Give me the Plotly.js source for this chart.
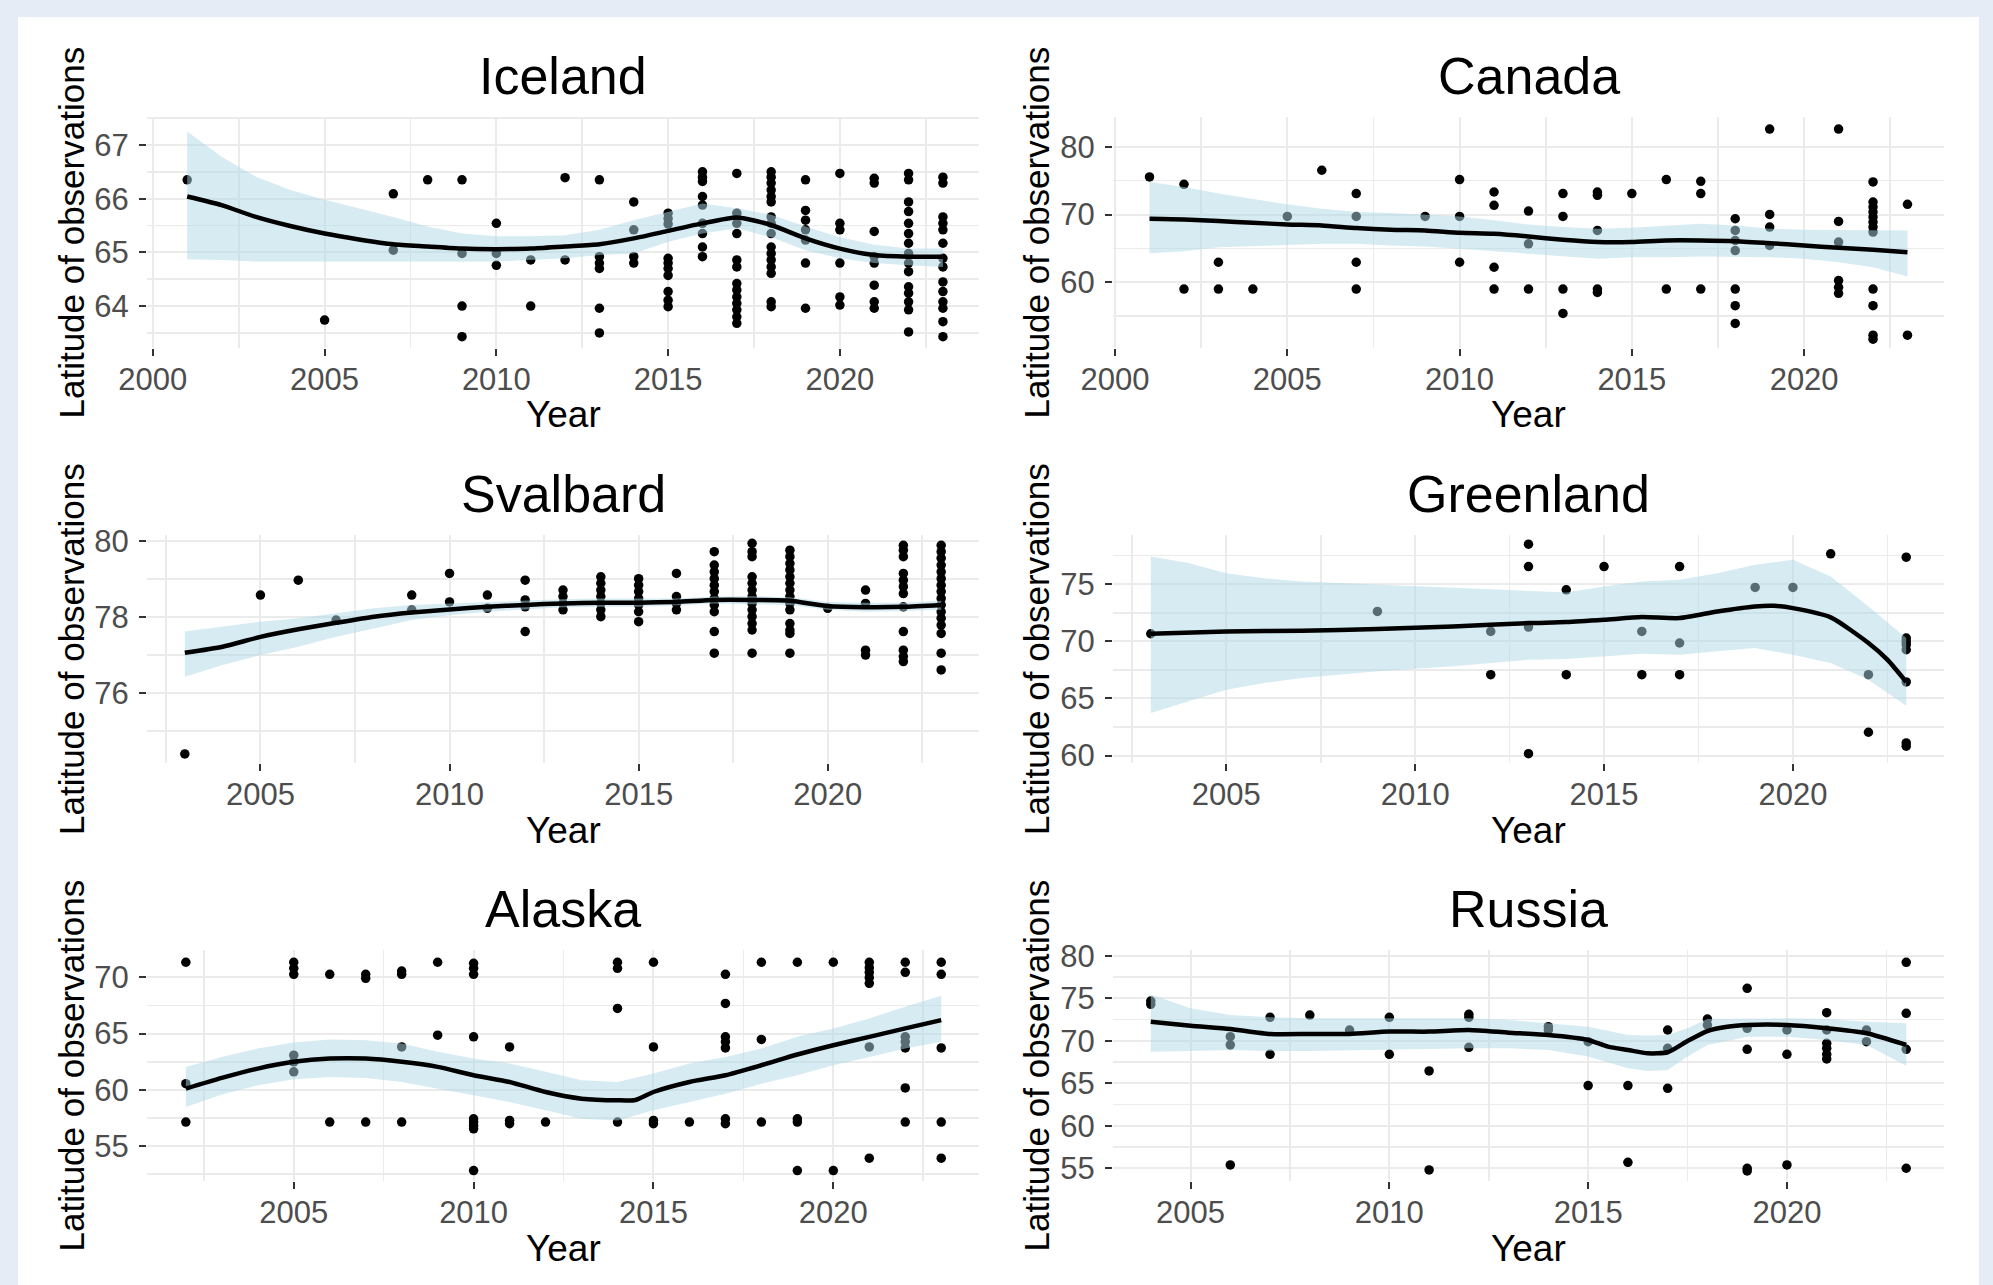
<!DOCTYPE html>
<html><head><meta charset="utf-8">
<script src="https://cdn.plot.ly/plotly-3.0.1.min.js"></script>
<style>html,body{margin:0;padding:0;background:#E5ECF6;} #chart{width:1993px;height:1285px;}</style>
</head><body><div id="chart"></div>
<script>
// ---------- DATA ----------
// Iceland
const icelandPtYears = [2001,2005,2007,2008,2009,2010,2011,2012,2013,2014,2015,2016,2017,2018,2019,2020,2021,2022,2023];
const icelandPtLats = [
 [66.35],[63.74],[66.09,65.04],[66.35],[66.35,64.98,64.0,63.43],[65.54,64.98,64.76],[64.86,64.0],[66.39,64.86],
 [66.35,64.92,64.8,64.7,63.96,63.5],[65.94,65.42,64.92,64.8],
 [65.73,65.63,65.53,64.89,64.8,64.7,64.57,64.27,64.11,63.99],
 [66.5,66.4,66.32,66.04,65.88,65.54,65.35,65.1,64.92],
 [66.47,65.73,65.54,65.35,64.86,64.73,64.42,64.3,64.17,64.05,63.93,63.8,63.68],
 [66.5,66.4,66.29,66.16,66.04,65.94,65.66,65.54,65.35,65.1,64.98,64.86,64.73,64.61,64.08,63.99],
 [66.35,65.78,65.6,65.42,65.23,64.8,63.96],
 [66.47,65.54,65.42,64.8,64.17,64.02],
 [66.38,66.29,65.39,64.92,64.8,64.39,64.08,63.96],
 [66.47,66.35,65.94,65.76,65.54,65.35,65.17,64.98,64.8,64.64,64.36,64.24,64.08,63.93,63.52],
 [66.4,66.29,65.66,65.54,65.42,65.17,64.89,64.73,64.45,64.27,64.08,63.96,63.71,63.43]
];
const icelandFitYears = [2001,2002,2003,2004,2005,2006,2007,2008,2009,2010,2011,2012,2013,2014,2015,2016,2017,2018,2019,2020,2021,2022,2023];
const icelandFit   = [66.04,65.88,65.66,65.49,65.35,65.24,65.15,65.11,65.07,65.06,65.07,65.11,65.15,65.26,65.40,65.54,65.65,65.51,65.26,65.07,64.95,64.92,64.92];
const icelandUpper = [67.25,66.78,66.41,66.16,65.98,65.82,65.66,65.48,65.35,65.30,65.30,65.32,65.42,65.60,65.76,65.91,65.82,65.70,65.48,65.28,65.14,65.07,65.07];
const icelandLower = [64.87,64.86,64.83,64.83,64.83,64.83,64.83,64.83,64.83,64.83,64.86,64.89,64.95,64.98,65.20,65.35,65.45,65.28,65.04,64.89,64.80,64.76,64.73];

// Canada
const canadaPtYears = [2001,2002,2003,2004,2005,2006,2007,2009,2010,2011,2012,2013,2014,2015,2016,2017,2018,2019,2021,2022,2023];
const canadaPtLats = [
 [75.56],[74.47,59.0],[62.96,59.0],[59.0],[69.73],[76.54],[73.09,69.73,62.96,59.0],[69.73],[75.16,69.73,62.96],
 [73.33,71.36,62.22,59.0],[70.52,65.68,59.0],[73.09,69.73,59.0,55.41],[73.33,72.84,67.65,59.0,58.5],[73.09],
 [75.16,59.0],[74.91,73.09,59.0],[69.38,67.65,66.17,64.69,59.0,56.54,53.93],[82.62,70.02,68.15,65.43],
 [82.62,68.99,65.93,60.25,59.26,58.37],
 [74.81,71.85,71.11,70.37,69.63,68.89,68.15,67.41,59.0,56.54,52.2,51.6],[71.51,52.2]
];
const canadaFitYears = [2001,2002,2003,2004,2005,2006,2007,2008,2009,2010,2011,2012,2013,2014,2015,2016,2017,2018,2019,2020,2021,2022,2023];
const canadaFit   = [69.38,69.28,69.04,68.79,68.54,68.40,68.00,67.75,67.65,67.31,67.16,66.77,66.27,65.93,65.93,66.17,66.17,66.07,65.78,65.43,65.09,64.79,64.44];
const canadaUpper = [74.81,74.07,73.09,72.25,71.51,70.86,70.37,70.22,70.02,69.73,69.14,68.54,68.15,67.90,68.05,68.40,68.64,68.40,67.90,67.75,67.75,67.65,67.65];
const canadaLower = [64.30,64.59,65.19,65.43,65.53,65.68,65.68,65.43,65.28,64.94,64.59,64.20,63.80,63.46,63.70,63.70,63.80,63.80,63.70,63.46,62.96,62.22,60.84];

// Svalbard
const svalbardPtYears = [2003,2005,2006,2007,2009,2010,2011,2012,2013,2014,2015,2016,2017,2018,2019,2020,2021,2022,2023];
const svalbardPtLats = [
 [74.39],[78.57],[78.96],[77.91],[78.57,78.18],[79.14,78.39],[78.57,78.22],[78.96,78.44,78.26,77.61],
 [78.7,78.53,78.35,78.18],[79.05,78.88,78.7,78.53,78.35,78.18,78.0],[79.0,78.83,78.66,78.48,78.31,78.13,77.87],
 [79.14,78.53,78.35,78.18],
 [79.71,79.36,79.18,79.0,78.83,78.66,78.48,78.31,78.13,77.61,77.04],
 [79.93,79.71,79.58,79.05,78.88,78.7,78.53,78.35,78.18,78.0,77.82,77.65,77.04],
 [79.75,79.58,79.4,79.23,79.05,78.88,78.7,78.53,78.35,78.18,77.82,77.65,77.56,77.04],
 [78.22],[78.7,78.35,77.12,76.99],
 [79.88,79.75,79.58,79.14,78.96,78.79,78.61,78.26,77.61,77.12,76.95,76.82],
 [79.88,79.71,79.54,79.36,79.18,79.0,78.83,78.66,78.48,78.31,78.13,77.96,77.78,77.56,77.04,76.6]
];
const svalbardFitYears = [2003,2004,2005,2006,2007,2008,2009,2010,2011,2012,2013,2014,2015,2016,2017,2018,2019,2020,2021,2022,2023];
const svalbardFit   = [77.05,77.21,77.47,77.67,77.84,78.00,78.11,78.19,78.26,78.31,78.35,78.37,78.37,78.39,78.44,78.44,78.42,78.28,78.25,78.26,78.31];
const svalbardUpper = [77.61,77.74,77.87,77.96,78.09,78.22,78.31,78.35,78.39,78.42,78.46,78.48,78.48,78.48,78.53,78.54,78.51,78.39,78.37,78.37,78.42];
const svalbardLower = [76.42,76.73,76.99,77.21,77.47,77.69,77.91,78.04,78.13,78.19,78.25,78.26,78.26,78.30,78.35,78.33,78.31,78.18,78.13,78.15,78.18];

// Greenland
const greenlandPtYears = [2003,2009,2012,2013,2014,2015,2016,2017,2019,2020,2021,2022,2023];
const greenlandPtLats = [
 [70.66],[72.61],[70.86,67.08],[78.5,76.54,71.24,60.17],[74.5,67.08],[76.54],[70.86,67.08],[76.54,69.85,67.08],
 [74.71],[74.71],[77.65],[67.08,62.04],[77.36,70.28,69.99,69.7,69.26,66.44,61.11,60.82]
];
const greenlandFitYears = [2003,2005,2007,2009,2011,2013,2014,2015,2016,2017,2018,2019,2019.5,2020,2021,2022,2022.5,2023];
const greenlandFit = [70.66,70.86,70.92,71.07,71.30,71.59,71.68,71.88,72.12,72.03,72.61,73.05,73.10,72.90,72.09,69.85,68.39,66.44];
const greenlandBandYears = [2003,2004,2005,2006,2007,2009,2011,2013,2014,2015,2016,2017,2018,2019,2020,2021,2022,2023];
const greenlandUpper = [77.42,76.84,75.96,75.52,75.23,74.94,74.65,74.36,74.27,74.80,75.23,75.38,75.96,76.69,77.13,75.67,73.05,70.28];
const greenlandLower = [63.73,64.75,65.77,66.35,66.79,67.37,67.81,68.39,68.45,68.68,68.91,68.83,69.12,69.41,68.83,68.10,66.64,64.37];

// Alaska
const alaskaPtYears = [2002,2005,2006,2007,2008,2009,2010,2011,2012,2014,2015,2016,2017,2018,2019,2020,2021,2022,2023];
const alaskaPtLats = [
 [71.34,60.55,57.14],[71.34,70.8,70.27,63.08,62.49,61.6],[70.27,57.14],[70.27,69.91,57.14],[70.56,70.27,63.82,57.14],
 [71.34,64.86],[71.25,70.8,70.27,64.71,57.43,57.14,56.84,56.54,52.83],[63.82,57.28,56.99],[57.14],
 [71.34,70.8,67.24,57.14],[71.34,63.82,57.28,56.99],[57.14],[70.27,67.68,64.71,64.27,63.73,57.43,56.99],
 [71.34,64.48,57.14],[71.34,57.43,57.14,52.83],[71.34,52.83],[71.34,70.86,70.45,69.97,69.47,63.82,53.93],
 [71.34,70.45,64.71,64.27,63.73,60.17,57.14],[71.34,70.27,63.73,57.14,53.93]
];
const alaskaFitYears = [2002,2003,2004,2005,2006,2007,2008,2009,2010,2011,2012,2013,2014,2014.5,2015,2016,2017,2018,2019,2020,2021,2022,2023];
const alaskaFit = [60.11,61.06,61.89,62.49,62.78,62.78,62.49,62.04,61.30,60.70,59.81,59.22,59.07,59.10,59.81,60.70,61.30,62.19,63.14,63.97,64.71,65.46,66.20];
const alaskaBandYears = [2002,2003,2004,2005,2006,2007,2008,2009,2010,2011,2012,2013,2014,2015,2016,2017,2018,2019,2020,2021,2022,2023];
const alaskaUpper = [62.04,62.93,63.67,64.21,64.48,64.42,64.12,63.38,62.78,62.34,61.60,60.85,60.70,61.45,62.34,62.93,63.67,64.71,65.46,66.35,67.39,68.37];
const alaskaLower = [58.48,59.58,60.41,60.94,61.15,61.06,60.70,60.11,59.51,58.92,58.18,57.43,57.28,58.18,58.92,59.66,60.55,61.30,62.19,62.93,63.67,64.27];

// Russia
const russiaPtYears = [2004,2006,2007,2008,2009,2010,2011,2012,2014,2015,2016,2017,2018,2019,2020,2021,2022,2023];
const russiaPtLats = [
 [74.67,74.28],[70.48,69.5,55.39],[72.75,68.4],[73.02],[71.26],[72.75,68.4],[66.44,54.8],[73.1,72.75,69.22],
 [71.65,71.26],[69.89,64.72],[64.72,55.7],[71.26,69.1,64.4],[72.55,71.85],[76.16,71.46,68.99,55.0,54.69],
 [71.26,68.4,55.39],[73.3,71.26,69.7,69.1,68.4,67.85],[71.26,69.89],[79.22,73.22,68.99,55.0]
];
const russiaFitYears = [2004,2005,2006,2007,2008,2009,2010,2011,2012,2013,2014,2015,2015.5,2016,2016.5,2017,2017.5,2018,2018.5,2019,2020,2021,2022,2023];
const russiaFit = [72.24,71.77,71.38,70.79,70.79,70.79,71.07,71.07,71.26,70.95,70.67,70.09,69.30,68.91,68.52,68.64,69.97,71.14,71.65,71.85,71.85,71.46,70.87,69.50];
const russiaBandYears = [2004,2005,2006,2007,2008,2010,2012,2013,2014,2015,2016,2016.5,2017,2017.5,2018,2019,2020,2021,2022,2023];
const russiaUpper = [75.45,73.81,73.02,72.75,72.63,72.63,72.63,72.44,72.05,71.65,70.67,70.60,70.67,71.46,72.55,72.63,72.63,72.55,72.24,72.05];
const russiaLower = [68.71,68.79,68.91,68.79,68.79,68.91,69.10,69.10,68.91,68.13,66.76,66.44,66.56,68.13,69.50,70.48,70.48,70.09,69.50,67.07];

// ---------- LAYOUT / DRAWING ----------
const W = 1993, H = 1285;
const FONT = 'Liberation Sans, Arial, Helvetica, sans-serif';
const colL = [147, 979], colR = [1113, 1944];
const rows = [[117, 348], [535, 763], [950, 1181]];
const px2x = p => p / W;
const px2y = p => 1 - p / H;

const panels = [
  {title:'Iceland',  col:colL, row:rows[0], xr:[1999.83,2024.05], yr:[63.22,67.52], ydt:1,  ymin:0.5,
   py:icelandPtYears, pl:icelandPtLats, fx:icelandFitYears, fy:icelandFit, bx:icelandFitYears, bu:icelandUpper, bl:icelandLower},
  {title:'Canada',   col:colR, row:rows[0], xr:[1999.94,2024.06], yr:[50.3,84.4], ydt:10, ymin:5,
   py:canadaPtYears, pl:canadaPtLats, fx:canadaFitYears, fy:canadaFit, bx:canadaFitYears, bu:canadaUpper, bl:canadaLower},
  {title:'Svalbard', col:colL, row:rows[1], xr:[2002.0,2024.0], yr:[74.15,80.15], ydt:2, ymin:1,
   py:svalbardPtYears, pl:svalbardPtLats, fx:svalbardFitYears, fy:svalbardFit, bx:svalbardFitYears, bu:svalbardUpper, bl:svalbardLower},
  {title:'Greenland',col:colR, row:rows[1], xr:[2002.0,2024.0], yr:[59.35,79.3], ydt:5, ymin:2.5,
   py:greenlandPtYears, pl:greenlandPtLats, fx:greenlandFitYears, fy:greenlandFit, bx:greenlandBandYears, bu:greenlandUpper, bl:greenlandLower},
  {title:'Alaska',   col:colL, row:rows[2], xr:[2000.92,2024.05], yr:[51.9,72.43], ydt:5, ymin:2.5,
   py:alaskaPtYears, pl:alaskaPtLats, fx:alaskaFitYears, fy:alaskaFit, bx:alaskaBandYears, bu:alaskaUpper, bl:alaskaLower},
  {title:'Russia',   col:colR, row:rows[2], xr:[2003.05,2023.95], yr:[53.5,80.67], ydt:5, ymin:2.5,
   py:russiaPtYears, pl:russiaPtLats, fx:russiaFitYears, fy:russiaFit, bx:russiaBandYears, bu:russiaUpper, bl:russiaLower}
];

const traces = [];
const layout = {
  width: W, height: H,
  margin: {l:0, r:0, t:0, b:0},
  paper_bgcolor: '#E5ECF6',
  plot_bgcolor: '#FFFFFF',
  showlegend: false,
  hovermode: false,
  font: {family: FONT, color: '#000000'},
  shapes: [{type:'rect', xref:'paper', yref:'paper', x0:px2x(18), x1:px2x(1979), y0:0, y1:px2y(17),
            fillcolor:'#FFFFFF', line:{width:0}, layer:'below'}],
  annotations: []
};

panels.forEach((p, i) => {
  const n = i + 1;
  const xa = 'x' + (n === 1 ? '' : n), ya = 'y' + (n === 1 ? '' : n);
  const xKey = 'xaxis' + (n === 1 ? '' : n), yKey = 'yaxis' + (n === 1 ? '' : n);
  // points
  const ptx = [], pty = [];
  p.py.forEach((yr, k) => p.pl[k].forEach(v => { ptx.push(yr); pty.push(v); }));
  traces.push({type:'scatter', mode:'markers', x:ptx, y:pty, xaxis:xa, yaxis:ya,
    marker:{color:'#000000', size:9.5}, hoverinfo:'skip'});
  // confidence band (drawn over points, semi-transparent)
  const bandX = p.bx.concat(p.bx.slice().reverse());
  const bandY = p.bu.concat(p.bl.slice().reverse());
  traces.push({type:'scatter', mode:'lines', x:bandX, y:bandY, xaxis:xa, yaxis:ya,
    fill:'toself', fillcolor:'rgba(173,216,230,0.5)', line:{width:0, color:'rgba(0,0,0,0)'}, hoverinfo:'skip'});
  // smooth line
  traces.push({type:'scatter', mode:'lines', x:p.fx, y:p.fy, xaxis:xa, yaxis:ya,
    line:{color:'#000000', width:4.5, shape:'spline', smoothing:0.6}, hoverinfo:'skip'});

  const common = {
    ticks:'outside', ticklen:7, tickwidth:2, tickcolor:'#333333',
    showgrid:true, gridcolor:'#EBEBEB', gridwidth:2,
    zeroline:false, showline:false, fixedrange:true,
    tickfont:{family:FONT, size:31, color:'#4D4D4D'}
  };
  layout[xKey] = Object.assign({}, common, {
    domain:[px2x(p.col[0]), px2x(p.col[1])], anchor:ya, range:p.xr,
    tick0:2000, dtick:5, ticklabelstandoff:-3,
    minor:{tick0:2000, dtick:2.5, showgrid:true, gridcolor:'#EBEBEB', gridwidth:1.6, ticks:''}
  });
  layout[yKey] = Object.assign({}, common, {
    domain:[px2y(p.row[1]), px2y(p.row[0])], anchor:xa, range:p.yr,
    tick0:0, dtick:p.ydt, ticklabelstandoff:4,
    minor:{tick0:0, dtick:p.ymin, showgrid:true, gridcolor:'#EBEBEB', gridwidth:1.6, ticks:''}
  });

  const cx = (p.col[0] + p.col[1]) / 2;
  const cy = (p.row[0] + p.row[1]) / 2;
  // panel title
  layout.annotations.push({text:p.title, xref:'paper', yref:'paper', x:px2x(cx), y:px2y(p.row[0] - 41),
    xanchor:'center', yanchor:'middle', showarrow:false, font:{family:FONT, size:52, color:'#000000'}});
  // x axis title
  layout.annotations.push({text:'Year', xref:'paper', yref:'paper', x:px2x(cx), y:px2y(p.row[1] + 67),
    xanchor:'center', yanchor:'middle', showarrow:false, font:{family:FONT, size:37, color:'#000000'}});
  // y axis title
  const yTitleX = (p.col === colL) ? 71 : 1036;
  layout.annotations.push({text:'Latitude of observations', xref:'paper', yref:'paper', x:px2x(yTitleX), y:px2y(cy),
    xanchor:'center', yanchor:'middle', textangle:-90, showarrow:false, font:{family:FONT, size:35, color:'#000000'}});
});

Plotly.newPlot('chart', traces, layout, {displayModeBar:false, staticPlot:true});
</script>
</body></html>
